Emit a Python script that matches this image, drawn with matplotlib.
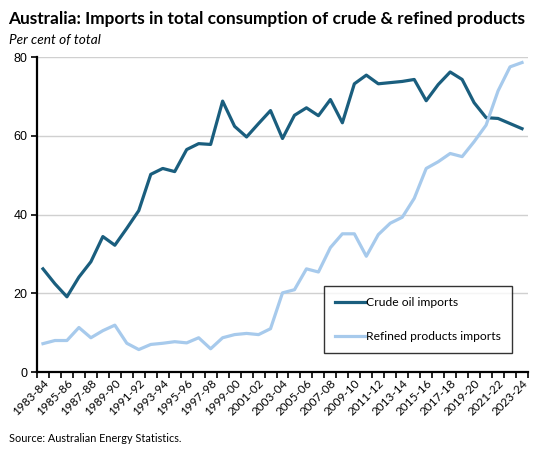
import matplotlib
matplotlib.use("Agg")
import matplotlib.pyplot as plt
import numpy as np

years = [f"{y}-{str(y+1)[-2:]}" for y in range(1983, 2024)]
crude = [26.2, 22.4, 19.1, 24.1, 28.0, 34.4, 32.2, 36.5, 41.0, 50.2,
         51.7, 50.9, 56.5, 58.0, 57.8, 68.8, 62.4, 59.7, 63.1, 66.4,
         59.3, 65.2, 67.1, 65.1, 69.2, 63.3, 73.2, 75.4, 73.2, 73.5,
         73.8, 74.3, 68.9, 73.0, 76.2, 74.3, 68.4, 64.6, 64.4, 63.1, 61.8]
refined = [7.2, 8.0, 8.0, 11.3, 8.7, 10.5, 11.9, 7.3, 5.7, 7.0,
           7.3, 7.7, 7.4, 8.7, 5.9, 8.7, 9.5, 9.8, 9.5, 11.0,
           20.1, 20.9, 26.2, 25.4, 31.6, 35.1, 35.1, 29.4, 34.9, 37.8,
           39.3, 44.1, 51.7, 53.4, 55.5, 54.7, 58.5, 62.7, 71.4, 77.5, 78.6]

fig = plt.figure(figsize=(5.48, 4.54), dpi=100)
ax = fig.add_axes([0.0675, 0.1806, 0.896, 0.6938])
x = np.arange(len(years))
ax.plot(x, crude, color="#1a5e7e", lw=2.3, label="Crude oil imports")
ax.plot(x, refined, color="#a7caec", lw=2.3, label="Refined products imports")

ax.set_xlim(-0.5, len(years) - 0.5)
ax.set_ylim(0, 80)
ax.set_yticks([0, 20, 40, 60, 80])
ax.yaxis.grid(True, color="#d0d0d0", lw=1)
ax.set_axisbelow(True)
for s in ["top", "right"]:
    ax.spines[s].set_visible(False)
ax.spines["left"].set_linewidth(1.6)
ax.spines["bottom"].set_linewidth(1.6)
ax.tick_params(axis="y", length=4, width=1.2, labelsize=9, pad=3)
for lab in ax.get_yticklabels():
    lab.set_family("Liberation Sans")

ax.set_xticks(np.arange(-0.5, len(years)), minor=False)
ax.set_xticklabels([])
ax.tick_params(axis="x", which="major", length=4, width=1.2)
ax.set_xticks(x[::2], minor=True)
ax.set_xticklabels(years[::2], minor=True, rotation=45, ha="right",
                   rotation_mode="anchor", fontsize=8.5, family="Lato")
ax.tick_params(axis="x", which="minor", length=0, pad=4)

leg = ax.legend(loc="lower right", bbox_to_anchor=(0.967, 0.06), frameon=True,
                fancybox=False, edgecolor="black", handlelength=2.5,
                labelspacing=1.9, borderpad=0.9, borderaxespad=0, handletextpad=0.1,
                prop={"family": "Lato", "size": 8.7})
leg.get_frame().set_linewidth(1.0)

fig.text(0.014, 0.959, "Australia: Imports in total consumption of crude & refined products",
         fontsize=12.4, fontweight="bold", family="Lato", ha="left", va="center")
fig.text(0.016, 0.912, "Per cent of total", fontsize=9.8, style="italic", family="Lato",
         ha="left", va="center")
fig.text(0.016, 0.035, "Source: Australian Energy Statistics.", fontsize=7.8, family="Lato",
         ha="left", va="center")

fig.savefig("out.png", dpi=100)
